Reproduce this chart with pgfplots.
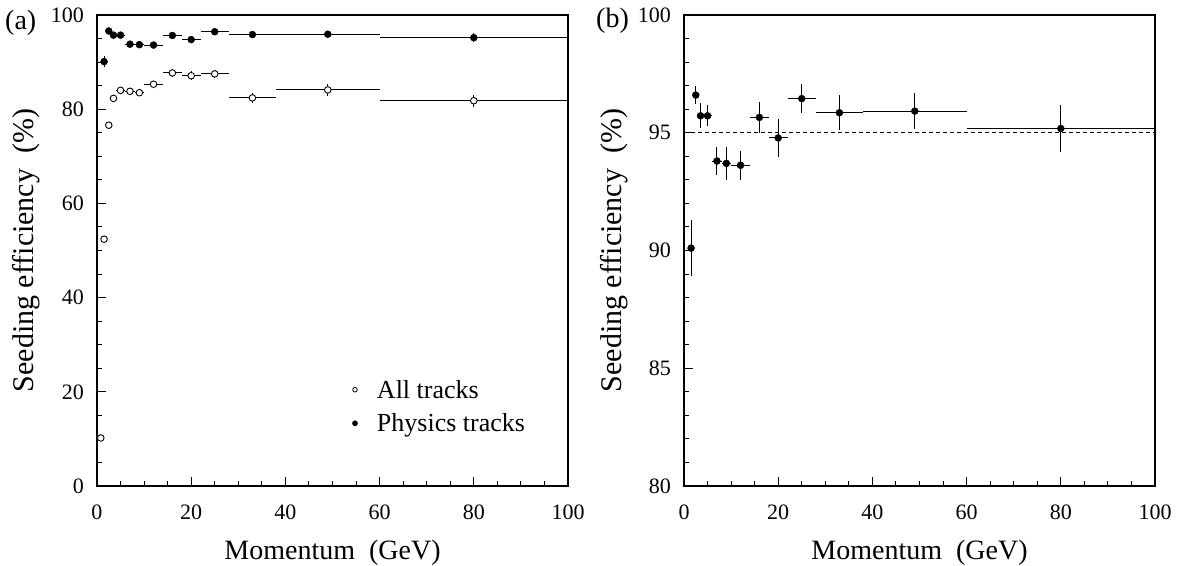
\documentclass[border=0pt]{standalone}
\usepackage{pgfplots}
\pgfplotsset{compat=1.18}
\usepackage{pgfplotstable}
\usepackage{fontspec}
\setmainfont{Liberation Serif}

\pgfplotstableread{
x y ex ey
0.8 10.2 0.0 0.3
1.5 52.4 0.5 0.5
2.5 76.6 0.5 0.5
3.5 82.3 0.5 0.5
5 84.0 1 0.5
7 83.8 1 0.6
9 83.5 1 0.7
12 85.3 2 0.7
16 87.7 2 0.8
20 87.1 2 1.0
25 87.5 3 0.8
33 82.4 5 1.0
49 84.1 11 1.2
80 81.8 20 1.3
}\alltracks

\pgfplotstableread{
x y ex ey
1.5 90.1 0.5 1.2
2.5 96.6 0.5 0.4
3.5 95.72 0.5 0.53
5 95.72 1 0.45
7 93.8 1 0.6
9 93.7 1 0.7
12 93.62 2 0.62
16 95.65 2 0.64
20 94.78 2 0.8
25 96.45 3 0.6
33 95.85 5 0.75
49 95.92 11 0.78
80 95.18 20 0.98
}\physics

\pgfplotsset{
  myaxis/.style={
    scale only axis, width=471pt, height=471pt,
    xmin=0, xmax=100, xtick={0,20,...,100}, minor x tick num=3,
    tick align=inside, tick pos=left,
    major tick length=9pt, minor tick length=5pt,
    axis line style={line width=1.2pt},
    every tick/.append style={line width=1pt, black},
    /pgf/number format/assume math mode=true,
    tick label style={font=\fontsize{22}{26}\selectfont},
    yticklabel style={inner sep=0pt, xshift=-13pt},
    xticklabel style={inner sep=0pt, yshift=-19pt},
    every axis x label/.style={at={(axis description cs:0.5,0)}, anchor=base, yshift=-73pt, font=\fontsize{28}{33}\selectfont},
    every axis y label/.style={at={([xshift=-63pt]axis description cs:0,0.5)}, rotate=90, anchor=base, font=\fontsize{30}{35}\selectfont},
    xlabel={Momentum\ \ (GeV)},
    ylabel={Seeding efficiency\ \ (\%)},
    error bars/error bar style={line width=1pt, black},
    error bars/error mark=none,
  }
}

\begin{document}
\begin{tikzpicture}
\path[use as bounding box] (0pt,0pt) rectangle (1183pt,565pt);

\begin{axis}[myaxis, at={(97pt,79pt)}, anchor=south west,
  ymin=0, ymax=100, ytick={0,20,...,100}, minor y tick num=3,
  legend cell align=left,
  legend style={at={(axis cs:53.5,23.4)}, anchor=north west, draw=none, fill=none,
    font=\fontsize{26}{31}\selectfont, row sep=10pt}]
\addplot[only marks, mark=*, mark size=3.3pt,
  mark options={fill=white, draw=black, line width=0.9pt},
  legend image code/.code={\path[draw=none,fill=none] (-2.3pt,0pt) rectangle (20pt,0.1pt); \draw[black, line width=0.8pt, fill=white] (0pt,0pt) circle (2.3pt);},
  error bars/.cd, x dir=both, x explicit, y dir=both, y explicit]
  table[x=x, y=y, x error=ex, y error=ey]{\alltracks};
\addlegendentry{All tracks}
\addplot[only marks, mark=*, mark size=3.5pt,
  mark options={fill=black, draw=black},
  legend image code/.code={\path[draw=none,fill=none] (-2.3pt,0pt) rectangle (20pt,0.1pt); \fill[black] (0pt,0pt) circle (2.6pt);},
  error bars/.cd, x dir=both, x explicit, y dir=both, y explicit]
  table[x=x, y=y, x error=ex, y error=ey]{\physics};
\addlegendentry{Physics tracks}
\end{axis}

\begin{axis}[myaxis, at={(684pt,79pt)}, anchor=south west,
  ymin=80, ymax=100, ytick={80,85,...,100}, minor y tick num=4]
\addplot[black, line width=1pt, dash pattern=on 4pt off 3pt] coordinates {(0,95) (100,95)};
\addplot[only marks, mark=*, mark size=3.5pt,
  mark options={fill=black, draw=black},
  error bars/.cd, x dir=both, x explicit, y dir=both, y explicit]
  table[x=x, y=y, x error=ex, y error=ey]{\physics};
\end{axis}

\node[anchor=west, font=\fontsize{28}{33}\selectfont, inner sep=0pt] at (5pt,542pt) {(a)};
\node[anchor=west, font=\fontsize{28}{33}\selectfont, inner sep=0pt] at (596pt,544pt) {(b)};
\end{tikzpicture}
\end{document}
